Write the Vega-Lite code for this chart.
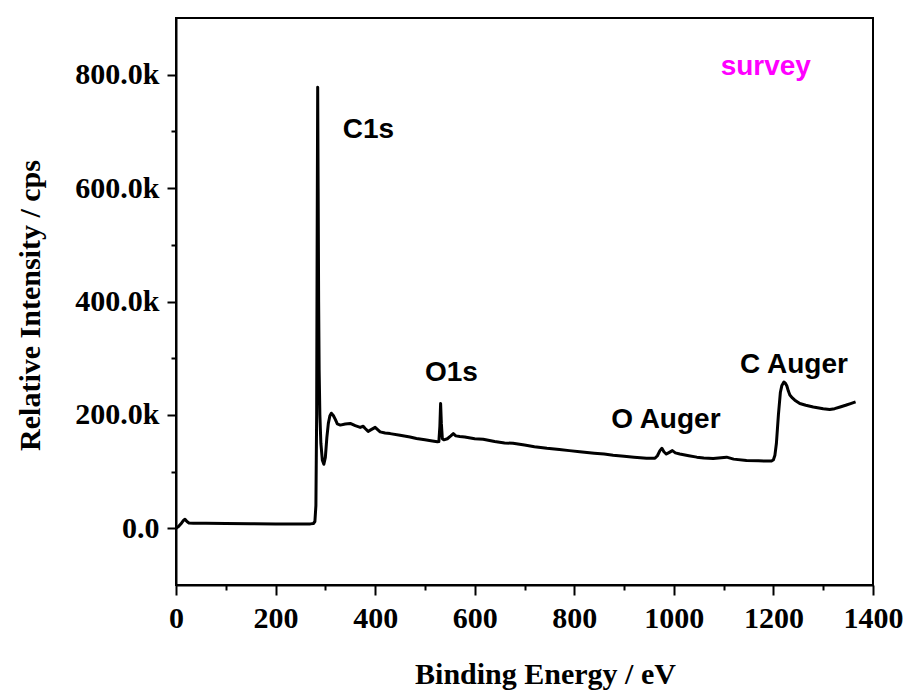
{
  "$schema": "https://vega.github.io/schema/vega-lite/v6.json",
  "width": 697,
  "height": 567,
  "autosize": {"type": "none"},
  "padding": {"left": 176, "top": 18, "right": 35, "bottom": 108},
  "background": "white",
  "config": {
    "view": {"stroke": "black", "strokeWidth": 2},
    "axis": {
      "grid": false,
      "domainColor": "black",
      "domainWidth": 2,
      "tickColor": "black",
      "tickWidth": 2,
      "labelFont": "Liberation Serif",
      "labelFontWeight": "bold",
      "labelFontSize": 30,
      "labelColor": "black",
      "labelFlush": false,
      "labelOverlap": false,
      "titleFont": "Liberation Serif",
      "titleFontWeight": "bold",
      "titleFontSize": 30,
      "titleColor": "black"
    }
  },
  "datasets": {
    "spectrum": [
      {"be": 0, "cps": 0}, {"be": 5, "cps": 3000}, {"be": 10, "cps": 8000}, {"be": 15, "cps": 14000},
      {"be": 18, "cps": 16000}, {"be": 22, "cps": 12000}, {"be": 26, "cps": 9500}, {"be": 35, "cps": 9000},
      {"be": 60, "cps": 8800}, {"be": 100, "cps": 8400}, {"be": 150, "cps": 8000}, {"be": 200, "cps": 7800},
      {"be": 250, "cps": 7800}, {"be": 270, "cps": 7800}, {"be": 276, "cps": 8500}, {"be": 279, "cps": 12000},
      {"be": 281, "cps": 40000}, {"be": 282.5, "cps": 200000}, {"be": 283.5, "cps": 500000}, {"be": 284.6, "cps": 778000},
      {"be": 285.5, "cps": 600000}, {"be": 286.5, "cps": 400000}, {"be": 287.5, "cps": 280000}, {"be": 289, "cps": 200000},
      {"be": 291, "cps": 150000}, {"be": 294, "cps": 120000}, {"be": 297, "cps": 113000}, {"be": 300, "cps": 125000},
      {"be": 303, "cps": 160000}, {"be": 306, "cps": 185000}, {"be": 309, "cps": 198000}, {"be": 312, "cps": 203000},
      {"be": 316, "cps": 199000}, {"be": 320, "cps": 192000}, {"be": 324, "cps": 184000}, {"be": 330, "cps": 182000},
      {"be": 340, "cps": 184000}, {"be": 350, "cps": 185000}, {"be": 360, "cps": 181000}, {"be": 370, "cps": 178000},
      {"be": 376, "cps": 180000}, {"be": 380, "cps": 176000}, {"be": 386, "cps": 171000}, {"be": 392, "cps": 174000},
      {"be": 400, "cps": 178000}, {"be": 405, "cps": 174000}, {"be": 410, "cps": 170000}, {"be": 420, "cps": 168000},
      {"be": 430, "cps": 167000}, {"be": 450, "cps": 164000}, {"be": 470, "cps": 161000}, {"be": 483, "cps": 158500},
      {"be": 500, "cps": 156000}, {"be": 515, "cps": 154000}, {"be": 525, "cps": 152500}, {"be": 528, "cps": 153000},
      {"be": 530, "cps": 180000}, {"be": 531.5, "cps": 220000}, {"be": 533, "cps": 185000}, {"be": 535, "cps": 158000},
      {"be": 538, "cps": 156000}, {"be": 545, "cps": 158000}, {"be": 552, "cps": 163000}, {"be": 557, "cps": 167000},
      {"be": 562, "cps": 163000}, {"be": 570, "cps": 162000}, {"be": 580, "cps": 161000}, {"be": 600, "cps": 158000},
      {"be": 617, "cps": 157000}, {"be": 640, "cps": 153000}, {"be": 660, "cps": 150500}, {"be": 677, "cps": 150000},
      {"be": 700, "cps": 147000}, {"be": 720, "cps": 144000}, {"be": 745, "cps": 141000}, {"be": 770, "cps": 139000},
      {"be": 790, "cps": 137000}, {"be": 811, "cps": 135000}, {"be": 840, "cps": 132500}, {"be": 860, "cps": 131000},
      {"be": 878, "cps": 129000}, {"be": 900, "cps": 127000}, {"be": 920, "cps": 125500}, {"be": 945, "cps": 123500},
      {"be": 962, "cps": 123500}, {"be": 967, "cps": 128000}, {"be": 972, "cps": 137000}, {"be": 976, "cps": 141000},
      {"be": 980, "cps": 135000}, {"be": 985, "cps": 131000}, {"be": 991, "cps": 134000}, {"be": 997, "cps": 137000},
      {"be": 1003, "cps": 133000}, {"be": 1012, "cps": 131000}, {"be": 1030, "cps": 128000}, {"be": 1046, "cps": 125500},
      {"be": 1060, "cps": 124000}, {"be": 1079, "cps": 123000}, {"be": 1095, "cps": 124500}, {"be": 1106, "cps": 125500},
      {"be": 1120, "cps": 122000}, {"be": 1146, "cps": 119500}, {"be": 1170, "cps": 119000}, {"be": 1196, "cps": 118500},
      {"be": 1200, "cps": 121000}, {"be": 1203, "cps": 129000}, {"be": 1206, "cps": 150000}, {"be": 1210, "cps": 200000},
      {"be": 1214, "cps": 240000}, {"be": 1217, "cps": 252000}, {"be": 1221, "cps": 258000}, {"be": 1224, "cps": 256000},
      {"be": 1227, "cps": 251000}, {"be": 1230, "cps": 242000}, {"be": 1233, "cps": 235000}, {"be": 1238, "cps": 230000},
      {"be": 1243, "cps": 226000}, {"be": 1253, "cps": 220000}, {"be": 1265, "cps": 217000}, {"be": 1280, "cps": 214000},
      {"be": 1300, "cps": 211000}, {"be": 1313, "cps": 209500}, {"be": 1323, "cps": 211000}, {"be": 1334, "cps": 214000},
      {"be": 1345, "cps": 217000}, {"be": 1355, "cps": 220000}, {"be": 1365, "cps": 223000}
    ],
    "peaks": [
      {"be": 335, "cps": 688000, "name": "C1s"},
      {"be": 500, "cps": 260000, "name": "O1s"},
      {"be": 874, "cps": 177000, "name": "O Auger"},
      {"be": 1133, "cps": 274000, "name": "C Auger"}
    ],
    "tag": [
      {"be": 1094, "cps": 800000, "name": "survey"}
    ]
  },
  "layer": [
    {
      "data": {"name": "spectrum"},
      "mark": {"type": "line", "color": "black", "strokeWidth": 3, "strokeJoin": "round"},
      "encoding": {
        "x": {
          "field": "be", "type": "quantitative",
          "scale": {"domain": [0, 1400], "nice": false, "zero": false},
          "axis": {
            "orient": "bottom",
            "values": [0, 200, 400, 600, 800, 1000, 1200, 1400],
            "format": "d",
            "tickSize": 10,
            "labelPadding": 8,
            "title": "Binding Energy / eV",
            "titleX": 369,
            "titleY": 98,
            "titleBaseline": "alphabetic"
          }
        },
        "y": {
          "field": "cps", "type": "quantitative",
          "scale": {"domain": [-100000, 900000], "nice": false, "zero": false},
          "axis": {
            "orient": "left",
            "values": [0, 200000, 400000, 600000, 800000],
            "labelExpr": "datum.value === 0 ? '0.0' : format(datum.value / 1000, '.1f') + 'k'",
            "tickSize": 9,
            "labelPadding": 8,
            "title": "Relative Intensity / cps",
            "titleAngle": -90,
            "titleX": -137,
            "titleY": 287,
            "titleBaseline": "alphabetic"
          }
        }
      }
    },
    {
      "data": {"name": "spectrum"},
      "mark": {"type": "line", "opacity": 0},
      "encoding": {
        "x": {
          "field": "be", "type": "quantitative",
          "axis": {
            "orient": "bottom",
            "values": [100, 300, 500, 700, 900, 1100, 1300],
            "tickSize": 5,
            "labels": false,
            "domain": false,
            "title": null
          }
        },
        "y": {
          "field": "cps", "type": "quantitative",
          "axis": {
            "orient": "left",
            "values": [100000, 300000, 500000, 700000],
            "tickSize": 5,
            "labels": false,
            "domain": false,
            "title": null
          }
        }
      }
    },
    {
      "data": {"name": "peaks"},
      "mark": {"type": "text", "font": "Liberation Sans", "fontWeight": "bold", "fontSize": 28, "color": "black", "align": "left", "baseline": "alphabetic"},
      "encoding": {
        "x": {"field": "be", "type": "quantitative", "axis": null},
        "y": {"field": "cps", "type": "quantitative", "axis": null},
        "text": {"field": "name"}
      }
    },
    {
      "data": {"name": "tag"},
      "mark": {"type": "text", "font": "Liberation Sans", "fontWeight": "bold", "fontSize": 28, "color": "#ff00ff", "align": "left", "baseline": "alphabetic"},
      "encoding": {
        "x": {"field": "be", "type": "quantitative", "axis": null},
        "y": {"field": "cps", "type": "quantitative", "axis": null},
        "text": {"field": "name"}
      }
    }
  ],
  "resolve": {"axis": {"x": "independent", "y": "independent"}}
}
